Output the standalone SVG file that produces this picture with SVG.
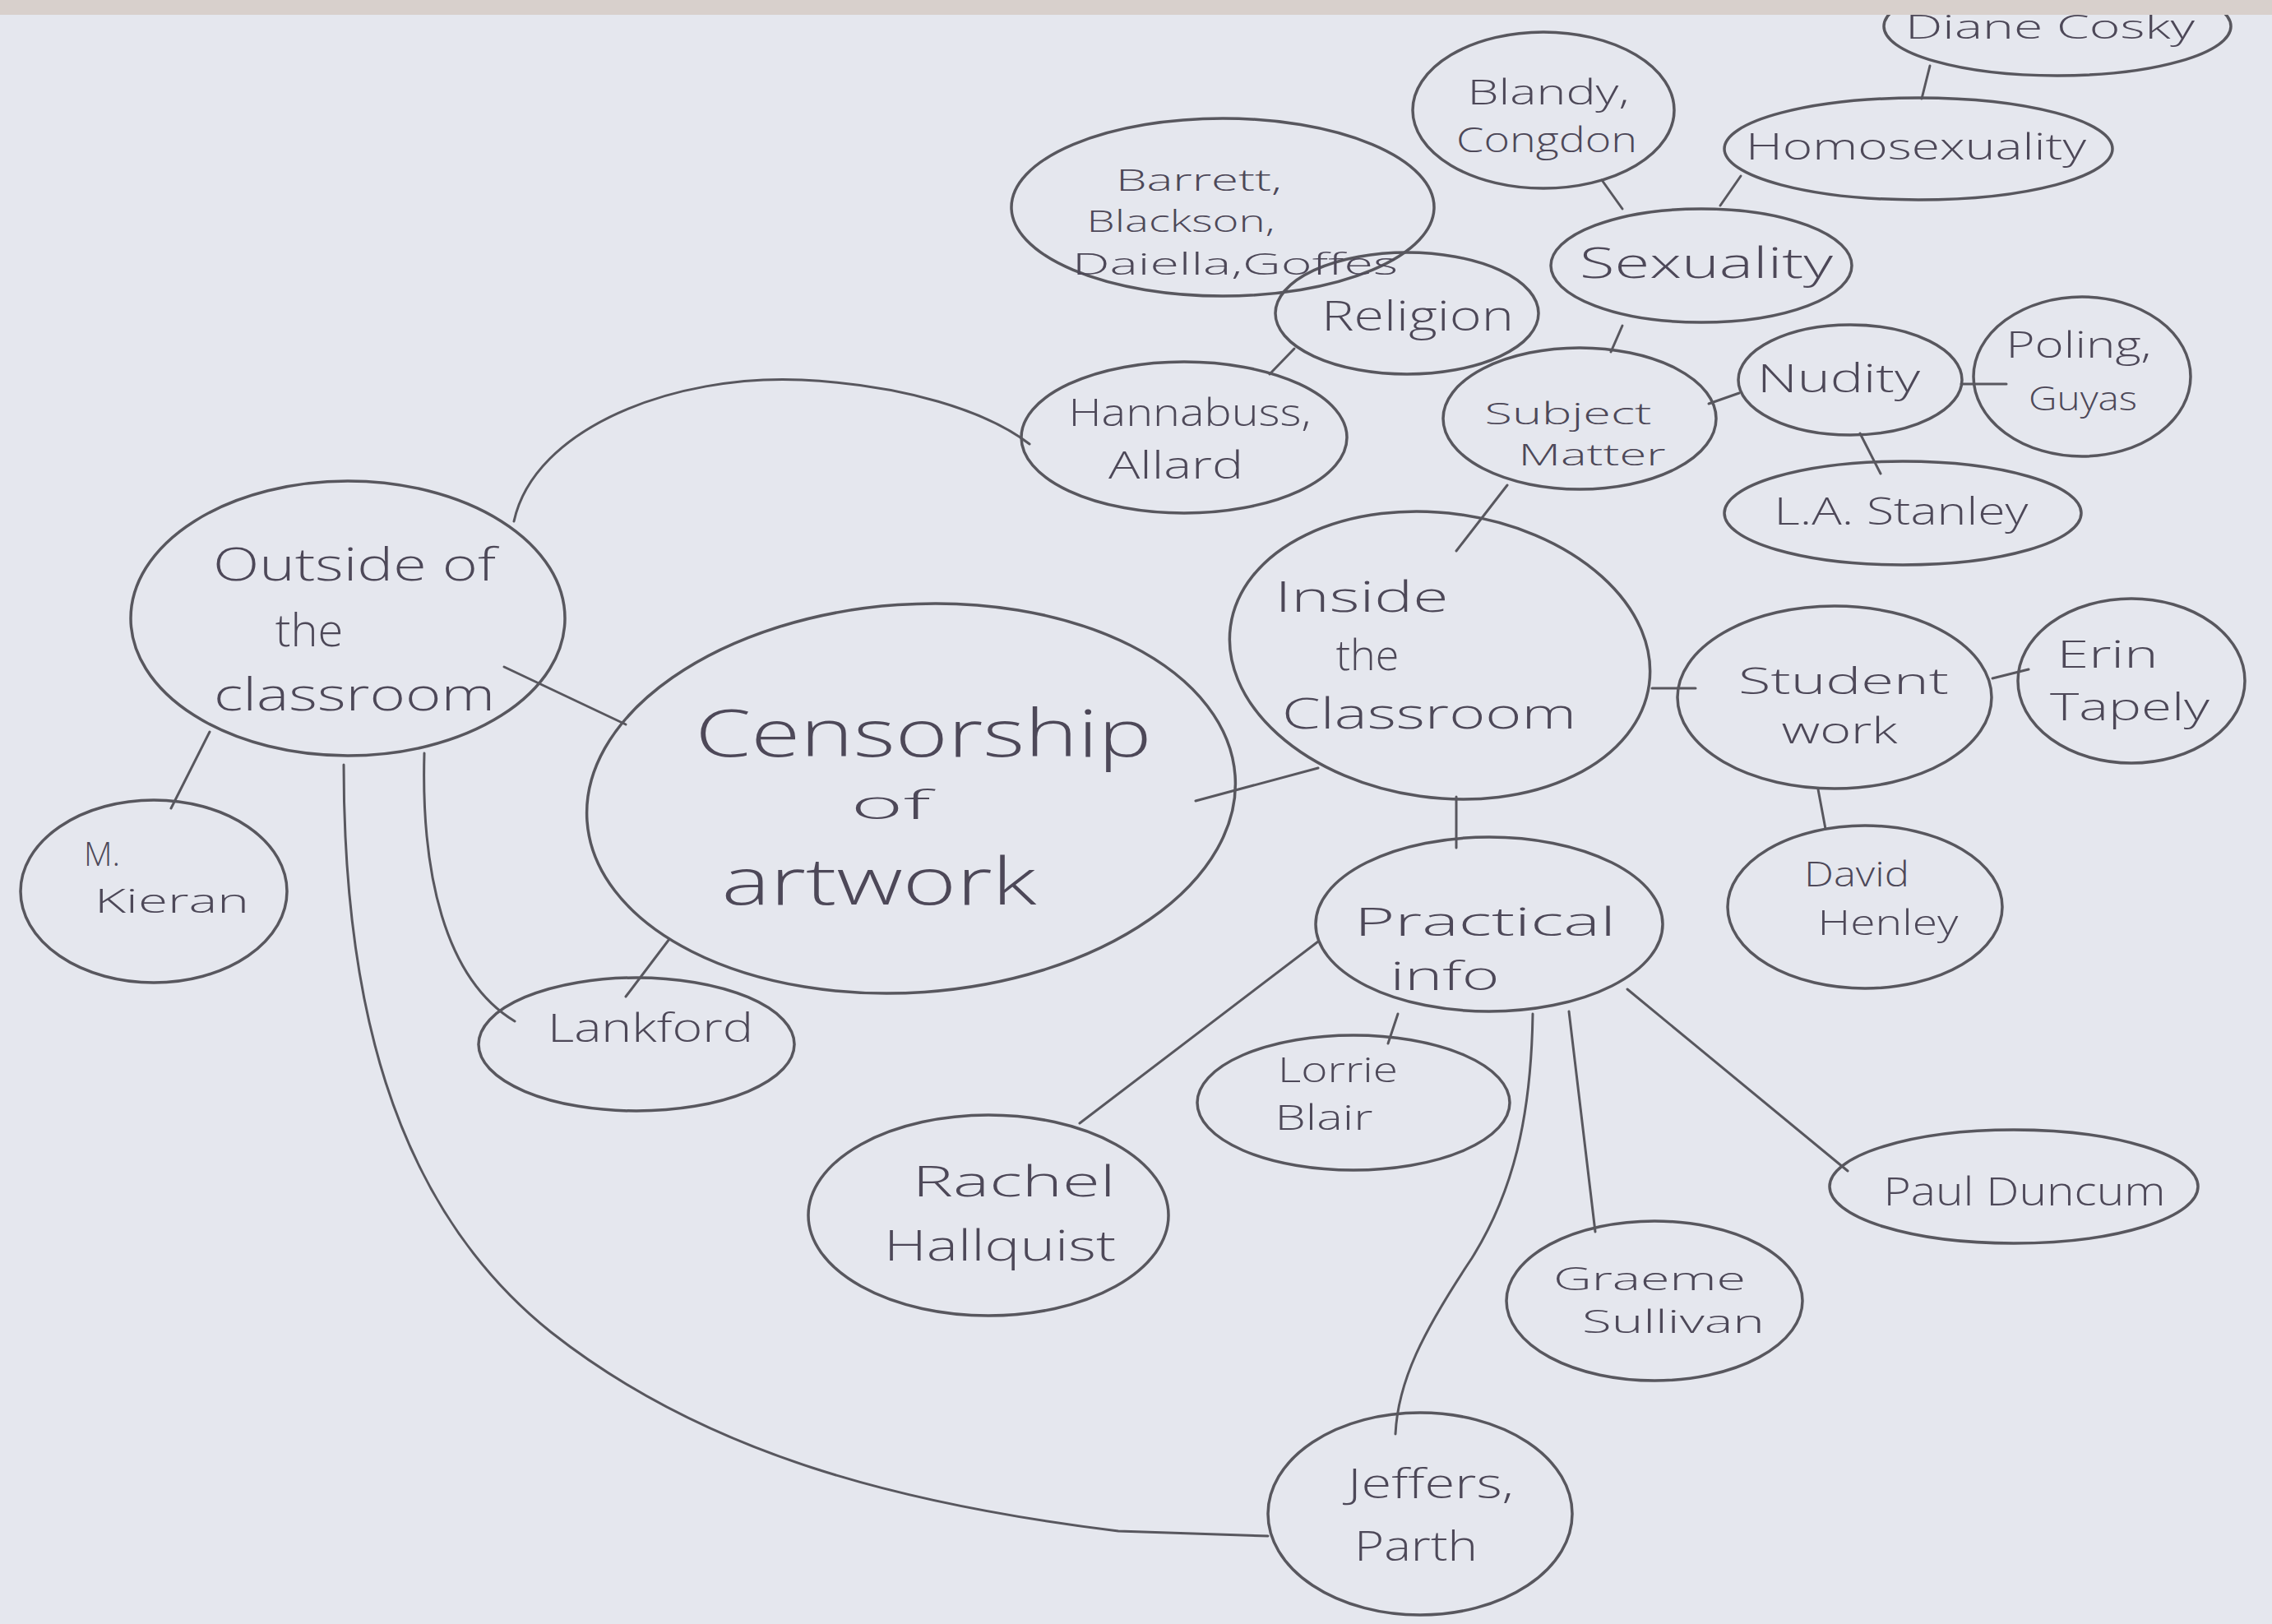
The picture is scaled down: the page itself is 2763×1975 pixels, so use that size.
<svg xmlns="http://www.w3.org/2000/svg" width="2763" height="1975" viewBox="0 0 2763 1975">
  <style>
    .bg { fill: #e5e7ee; }
    .band { fill: #d8d0cc; }
    .node ellipse { fill: none; stroke: #58575e; stroke-width: 3.5; }
    .edges path, .edges line { fill: none; stroke: #58575e; stroke-width: 3; stroke-linecap: round; }
    text { font-family: "Open Sans", "Liberation Sans", "DejaVu Sans", sans-serif; font-weight: 300; fill: #4d4858; text-anchor: middle; }
  </style>

  <rect class="bg" x="0" y="0" width="2763" height="1975"/>

  <!-- connectors -->
  <g id="connectors" class="edges">
    <path d="M 625 634 C 650 520, 820 455, 975 462 C 1100 468, 1200 500, 1252 540"/>
    <line x1="613" y1="811" x2="761" y2="881"/>
    <line x1="255" y1="890" x2="208" y2="983"/>
    <path d="M 516 916 C 512 1060, 540 1190, 626 1242"/>
    <path d="M 418 930 C 418 1200, 470 1460, 670 1620 C 860 1770, 1100 1830, 1360 1862 L 1542 1868"/>
    <line x1="814" y1="1142" x2="761" y2="1212"/>
    <line x1="1454" y1="974" x2="1603" y2="934"/>
    <line x1="1771" y1="670" x2="1833" y2="590"/>
    <line x1="2009" y1="837" x2="2062" y2="837"/>
    <line x1="1771" y1="969" x2="1771" y2="1031"/>
    <line x1="1959" y1="428" x2="1973" y2="396"/>
    <line x1="1574" y1="424" x2="1544" y2="455"/>
    <line x1="1948" y1="219" x2="1973" y2="254"/>
    <line x1="2117" y1="214" x2="2092" y2="250"/>
    <line x1="2347" y1="80" x2="2337" y2="120"/>
    <line x1="2078" y1="491" x2="2115" y2="478"/>
    <line x1="2385" y1="467" x2="2440" y2="467"/>
    <line x1="2262" y1="527" x2="2287" y2="576"/>
    <line x1="2423" y1="825" x2="2467" y2="814"/>
    <line x1="2211" y1="960" x2="2220" y2="1008"/>
    <line x1="1700" y1="1233" x2="1688" y2="1269"/>
    <line x1="1603" y1="1145" x2="1313" y2="1366"/>
    <line x1="1979" y1="1203" x2="2247" y2="1424"/>
    <line x1="1908" y1="1230" x2="1940" y2="1498"/>
    <path d="M 1864 1233 C 1862 1360, 1840 1450, 1790 1530 C 1730 1620, 1700 1680, 1697 1744"/>
  </g>

  <!-- central topic -->
  <g id="censorship" class="node">
    <ellipse cx="1108" cy="971" rx="395" ry="236" transform="rotate(-4 1108 971)"/>
    <text x="1123" y="920" font-size="80" textLength="555" lengthAdjust="spacingAndGlyphs">Censorship</text>
    <text x="1083" y="996" font-size="48" textLength="97" lengthAdjust="spacingAndGlyphs">of</text>
    <text x="1069" y="1100" font-size="80" textLength="383" lengthAdjust="spacingAndGlyphs">artwork</text>
  </g>

  <g id="outside" class="node">
    <ellipse cx="423" cy="752" rx="264" ry="167"/>
    <text x="431" y="706" font-size="56" textLength="344" lengthAdjust="spacingAndGlyphs">Outside of</text>
    <text x="376" y="786" font-size="56">the</text>
    <text x="431" y="864" font-size="56" textLength="342" lengthAdjust="spacingAndGlyphs">classroom</text>
  </g>

  <g id="kieran" class="node">
    <ellipse cx="187" cy="1084" rx="162" ry="111"/>
    <text x="124" y="1053" font-size="40">M.</text>
    <text x="209" y="1110" font-size="40" textLength="188" lengthAdjust="spacingAndGlyphs">Kieran</text>
  </g>

  <g id="lankford" class="node">
    <ellipse cx="774" cy="1270" rx="192" ry="81"/>
    <text x="791" y="1267" font-size="48" textLength="250" lengthAdjust="spacingAndGlyphs">Lankford</text>
  </g>

  <g id="inside" class="node">
    <ellipse cx="1751" cy="797" rx="257" ry="173" transform="rotate(8 1751 797)"/>
    <text x="1656" y="744" font-size="52" textLength="211" lengthAdjust="spacingAndGlyphs">Inside</text>
    <text x="1663" y="815" font-size="52">the</text>
    <text x="1738" y="886" font-size="52" textLength="358" lengthAdjust="spacingAndGlyphs">Classroom</text>
  </g>

  <g id="student-work" class="node">
    <ellipse cx="2231" cy="848" rx="191" ry="111"/>
    <text x="2242" y="844" font-size="44" textLength="256" lengthAdjust="spacingAndGlyphs">Student</text>
    <text x="2237" y="904" font-size="44" textLength="141" lengthAdjust="spacingAndGlyphs">work</text>
  </g>

  <g id="tapely" class="node">
    <ellipse cx="2592" cy="828" rx="138" ry="100"/>
    <text x="2563" y="812" font-size="46" textLength="123" lengthAdjust="spacingAndGlyphs">Erin</text>
    <text x="2590" y="876" font-size="46" textLength="194" lengthAdjust="spacingAndGlyphs">Tapely</text>
  </g>

  <g id="henley" class="node">
    <ellipse cx="2268" cy="1103" rx="167" ry="99"/>
    <text x="2258" y="1078" font-size="43" textLength="128" lengthAdjust="spacingAndGlyphs">David</text>
    <text x="2296" y="1137" font-size="43" textLength="171" lengthAdjust="spacingAndGlyphs">Henley</text>
  </g>

  <g id="practical" class="node">
    <ellipse cx="1811" cy="1124" rx="211" ry="106"/>
    <text x="1806" y="1138" font-size="48" textLength="318" lengthAdjust="spacingAndGlyphs">Practical</text>
    <text x="1757" y="1204" font-size="48" textLength="133" lengthAdjust="spacingAndGlyphs">info</text>
  </g>

  <g id="blair" class="node">
    <ellipse cx="1646" cy="1341" rx="190" ry="82"/>
    <text x="1627" y="1316" font-size="42" textLength="146" lengthAdjust="spacingAndGlyphs">Lorrie</text>
    <text x="1610" y="1374" font-size="42" textLength="119" lengthAdjust="spacingAndGlyphs">Blair</text>
  </g>

  <g id="hallquist" class="node">
    <ellipse cx="1202" cy="1478" rx="219" ry="122"/>
    <text x="1233" y="1455" font-size="52" textLength="247" lengthAdjust="spacingAndGlyphs">Rachel</text>
    <text x="1216" y="1533" font-size="52" textLength="282" lengthAdjust="spacingAndGlyphs">Hallquist</text>
  </g>

  <g id="duncum" class="node">
    <ellipse cx="2449" cy="1443" rx="224" ry="69"/>
    <text x="2462" y="1466" font-size="48" textLength="343" lengthAdjust="spacingAndGlyphs">Paul Duncum</text>
  </g>

  <g id="sullivan" class="node">
    <ellipse cx="2012" cy="1582" rx="180" ry="97"/>
    <text x="2006" y="1569" font-size="38" textLength="234" lengthAdjust="spacingAndGlyphs">Graeme</text>
    <text x="2035" y="1621" font-size="38" textLength="222" lengthAdjust="spacingAndGlyphs">Sullivan</text>
  </g>

  <g id="jeffers" class="node">
    <ellipse cx="1727" cy="1841" rx="185" ry="123"/>
    <text x="1740" y="1822" font-size="50" textLength="202" lengthAdjust="spacingAndGlyphs">Jeffers,</text>
    <text x="1722" y="1898" font-size="50" textLength="150" lengthAdjust="spacingAndGlyphs">Parth</text>
  </g>

  <g id="subject-matter" class="node">
    <ellipse cx="1921" cy="509" rx="166" ry="86"/>
    <text x="1907" y="516" font-size="36" textLength="203" lengthAdjust="spacingAndGlyphs">Subject</text>
    <text x="1936" y="566" font-size="36" textLength="179" lengthAdjust="spacingAndGlyphs">Matter</text>
  </g>

  <g id="nudity" class="node">
    <ellipse cx="2250" cy="462" rx="136" ry="67"/>
    <text x="2236" y="477" font-size="48" textLength="198" lengthAdjust="spacingAndGlyphs">Nudity</text>
  </g>

  <g id="poling" class="node">
    <ellipse cx="2532" cy="458" rx="132" ry="97"/>
    <text x="2528" y="435" font-size="44" textLength="177" lengthAdjust="spacingAndGlyphs">Poling,</text>
    <text x="2533" y="499" font-size="40" textLength="132" lengthAdjust="spacingAndGlyphs">Guyas</text>
  </g>

  <g id="stanley" class="node">
    <ellipse cx="2314" cy="624" rx="217" ry="63"/>
    <text x="2312" y="638" font-size="46" textLength="309" lengthAdjust="spacingAndGlyphs">L.A. Stanley</text>
  </g>

  <g id="hannabuss" class="node">
    <ellipse cx="1440" cy="532" rx="198" ry="92"/>
    <text x="1447" y="518" font-size="46" textLength="295" lengthAdjust="spacingAndGlyphs">Hannabuss,</text>
    <text x="1430" y="582" font-size="46" textLength="164" lengthAdjust="spacingAndGlyphs">Allard</text>
  </g>

  <g id="religion" class="node">
    <ellipse cx="1711" cy="381" rx="160" ry="74"/>
    <text x="1724" y="402" font-size="50" textLength="234" lengthAdjust="spacingAndGlyphs">Religion</text>
  </g>

  <g id="barrett" class="node">
    <ellipse cx="1487" cy="252" rx="257" ry="108"/>
    <text x="1458" y="232" font-size="36" textLength="202" lengthAdjust="spacingAndGlyphs">Barrett,</text>
    <text x="1436" y="282" font-size="36" textLength="229" lengthAdjust="spacingAndGlyphs">Blackson,</text>
    <text x="1502" y="334" font-size="36" textLength="396" lengthAdjust="spacingAndGlyphs">Daiella,Goffes</text>
  </g>

  <g id="sexuality" class="node">
    <ellipse cx="2069" cy="323" rx="183" ry="69"/>
    <text x="2075" y="338" font-size="52" textLength="308" lengthAdjust="spacingAndGlyphs">Sexuality</text>
  </g>

  <g id="blandy" class="node">
    <ellipse cx="1877" cy="134" rx="159" ry="95"/>
    <text x="1883" y="127" font-size="42" textLength="197" lengthAdjust="spacingAndGlyphs">Blandy,</text>
    <text x="1881" y="185" font-size="42" textLength="220" lengthAdjust="spacingAndGlyphs">Congdon</text>
  </g>

  <g id="homosexuality" class="node">
    <ellipse cx="2333" cy="181" rx="236" ry="62"/>
    <text x="2330" y="194" font-size="44" textLength="414" lengthAdjust="spacingAndGlyphs">Homosexuality</text>
  </g>

  <g id="cosky" class="node">
    <ellipse cx="2502" cy="32" rx="211" ry="60"/>
    <text x="2493" y="47" font-size="40" textLength="352" lengthAdjust="spacingAndGlyphs">Diane Cosky</text>
  </g>

  <!-- scanner edge along the top -->
  <rect class="band" x="0" y="0" width="2763" height="18"/>
</svg>
